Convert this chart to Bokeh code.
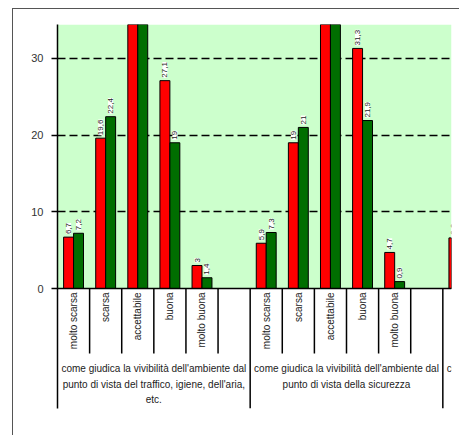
import math

from bokeh.core.properties import value
from bokeh.embed import file_html
from bokeh.models import BoxAnnotation, ColumnDataSource, FixedTicker, Span
from bokeh.plotting import figure
from bokeh.resources import INLINE

# --- data -------------------------------------------------------------------
categorie = ["molto scarsa", "scarsa", "accettabile", "buona", "molto buona", ""]

gruppo_traffico = ["come giudica la vivibilità dell'ambiente dal",
                   "punto di vista del traffico, igiene, dell'aria,",
                   "etc."]
gruppo_sicurezza = ["come giudica la vivibilità dell'ambiente dal",
                    "punto di vista della sicurezza"]
gruppo_servizi = ["come giudica la vivibilità dell'ambiente dal"]

rosso_traffico = [6.7, 19.6, 43.6, 27.1, 3.0]
verde_traffico = [7.2, 22.4, 50.0, 19.0, 1.4]
rosso_sicurezza = [5.9, 19.0, 39.1, 31.3, 4.7]
verde_sicurezza = [7.3, 21.0, 48.9, 21.9, 0.9]
rosso_servizi = [6.6]
verde_servizi = []

y_ticks = [0, 10, 20, 30]
grid_ticks = [10, 20, 30]

gruppi = [gruppo_traffico, gruppo_sicurezza, gruppo_servizi]
serie_rosse = [rosso_traffico, rosso_sicurezza, rosso_servizi]
serie_verdi = [verde_traffico, verde_sicurezza, verde_servizi]

# --- geometry ---------------------------------------------------------------
PAD_L, PAD_T = 12, 8          # offset of the chart-area border in the page
W, H = 460 - PAD_L - 1, 436 - PAD_T - 1
FRAME_W, FRAME_H = 394, 384   # plotting frame in pixels
BORDER_L = 57 - PAD_L - 1
BORDER_T = 24 - PAD_T - 1
PX_PER_UNIT = 7.67            # pixels per one y unit
Y_TOP = 34.42
Y_BOT = Y_TOP - FRAME_H / PX_PER_UNIT
X_END = 12.27                 # visible number of category slots
N_SLOT = len(categorie)
BAR_W = 0.31

FONT = value("Liberation Sans")


def px(n):
    """Convert a length in pixels to y data units."""
    return n / PX_PER_UNIT


def fmt(v):
    if float(v).is_integer():
        return str(int(v))
    return f"{v:.1f}".replace(".", ",")


RED = "#FF0000"
GREEN = "#006E00"
BG = "#CCFFCC"

# --- figure -----------------------------------------------------------------
p = figure(width=W, height=H,
           output_backend="svg", toolbar_location=None,
           x_range=(0, X_END), y_range=(Y_BOT, Y_TOP),
           x_axis_location=None,
           min_border_left=BORDER_L, min_border_top=BORDER_T,
           min_border_right=W - BORDER_L - FRAME_W,
           min_border_bottom=H - BORDER_T - FRAME_H)
p.outline_line_color = None
p.background_fill_color = "white"
p.border_fill_color = "white"
p.xgrid.visible = False
p.styles = {
    "margin-left": f"{PAD_L}px",
    "margin-top": f"{PAD_T}px",
    "border-left": "1px solid #555555",
    "border-top": "1px solid #555555",
}

# green plot area above zero
p.add_layout(BoxAnnotation(bottom=0, fill_color=BG, fill_alpha=1.0,
                           line_color=None, level="image"))

# y axis
p.yaxis.ticker = FixedTicker(ticks=y_ticks)
p.yaxis.minor_tick_line_color = None
p.yaxis.major_tick_out = 6
p.yaxis.major_tick_in = 0
p.yaxis.major_label_standoff = 8
p.yaxis.axis_line_width = 1.5
p.yaxis.axis_line_color = "black"
p.yaxis.major_tick_line_width = 1.5
p.yaxis.major_tick_line_color = "black"
p.yaxis.major_label_text_font = "Liberation Sans"
p.yaxis.major_label_text_font_size = "11px"
p.yaxis.major_label_text_color = "#333333"

# dashed horizontal gridlines
p.ygrid.ticker = FixedTicker(ticks=grid_ticks)
p.ygrid.grid_line_color = "black"
p.ygrid.grid_line_width = 1.6
p.ygrid.grid_line_dash = "8 4"

# --- bars -------------------------------------------------------------------
bars_r = dict(x=[], top=[])
bars_g = dict(x=[], top=[])
labels = dict(x=[], y=[], t=[])


def add_bar(store, xc, v):
    store["x"].append(xc)
    store["top"].append(v)
    if v < Y_TOP - px(20):          # value tags that fit inside the frame
        labels["x"].append(xc)
        labels["y"].append(v + px(3))
        labels["t"].append(fmt(v))


for g, (rs, vs) in enumerate(zip(serie_rosse, serie_verdi)):
    for i, v in enumerate(rs):
        add_bar(bars_r, g * N_SLOT + i + 0.5 - BAR_W / 2, v)
    for i, v in enumerate(vs):
        add_bar(bars_g, g * N_SLOT + i + 0.5 + BAR_W / 2, v)

p.vbar(x="x", top="top", bottom=0, width=BAR_W, source=ColumnDataSource(bars_r),
       fill_color=RED, line_color="black", line_width=1)
p.vbar(x="x", top="top", bottom=0, width=BAR_W, source=ColumnDataSource(bars_g),
       fill_color=GREEN, line_color="black", line_width=1)

p.text(x="x", y="y", text="t", source=ColumnDataSource(labels),
       angle=math.pi / 2, text_align="left", text_baseline="middle",
       text_font=FONT, text_font_size="8px", text_color="#222222",
       background_fill_color="white")

# zero line
p.add_layout(Span(location=0, dimension="width", line_color="black",
                  line_width=1.5))

# --- category table below the axis ------------------------------------------
n_total = N_SLOT * len(gruppi)
tick_x = [k for k in range(1, n_total + 1) if k % N_SLOT != 0 and k < X_END]
p.segment(x0=tick_x, y0=0, x1=tick_x, y1=-px(65), line_color="black",
          line_width=1.5)
grp_x = [N_SLOT * (g + 1) for g in range(len(gruppi)) if N_SLOT * (g + 1) < X_END]
p.segment(x0=grp_x, y0=0, x1=grp_x, y1=Y_BOT, line_color="black",
          line_width=1.5)

cat = dict(x=[], t=[])
for g in range(len(gruppi)):
    for i, c in enumerate(categorie):
        xc = g * N_SLOT + i + 0.5
        if c and xc < X_END:
            cat["x"].append(xc)
            cat["t"].append(c)
p.text(x="x", y=-px(4), text="t", source=ColumnDataSource(cat),
       angle=math.pi / 2, text_align="right", text_baseline="middle",
       text_font=FONT, text_font_size="10px", text_color="#222222")

grp = dict(x=[], y=[], t=[])
for g, lines in enumerate(gruppi):
    for j, line in enumerate(lines):
        grp["x"].append(g * N_SLOT + N_SLOT / 2)
        grp["y"].append(-px(80 + 15.5 * j))
        grp["t"].append(line)
p.text(x="x", y="y", text="t", source=ColumnDataSource(grp),
       text_align="center", text_baseline="middle",
       text_font=FONT, text_font_size="10px", text_color="#222222")

open("out.html", "w").write(file_html(p, INLINE))
